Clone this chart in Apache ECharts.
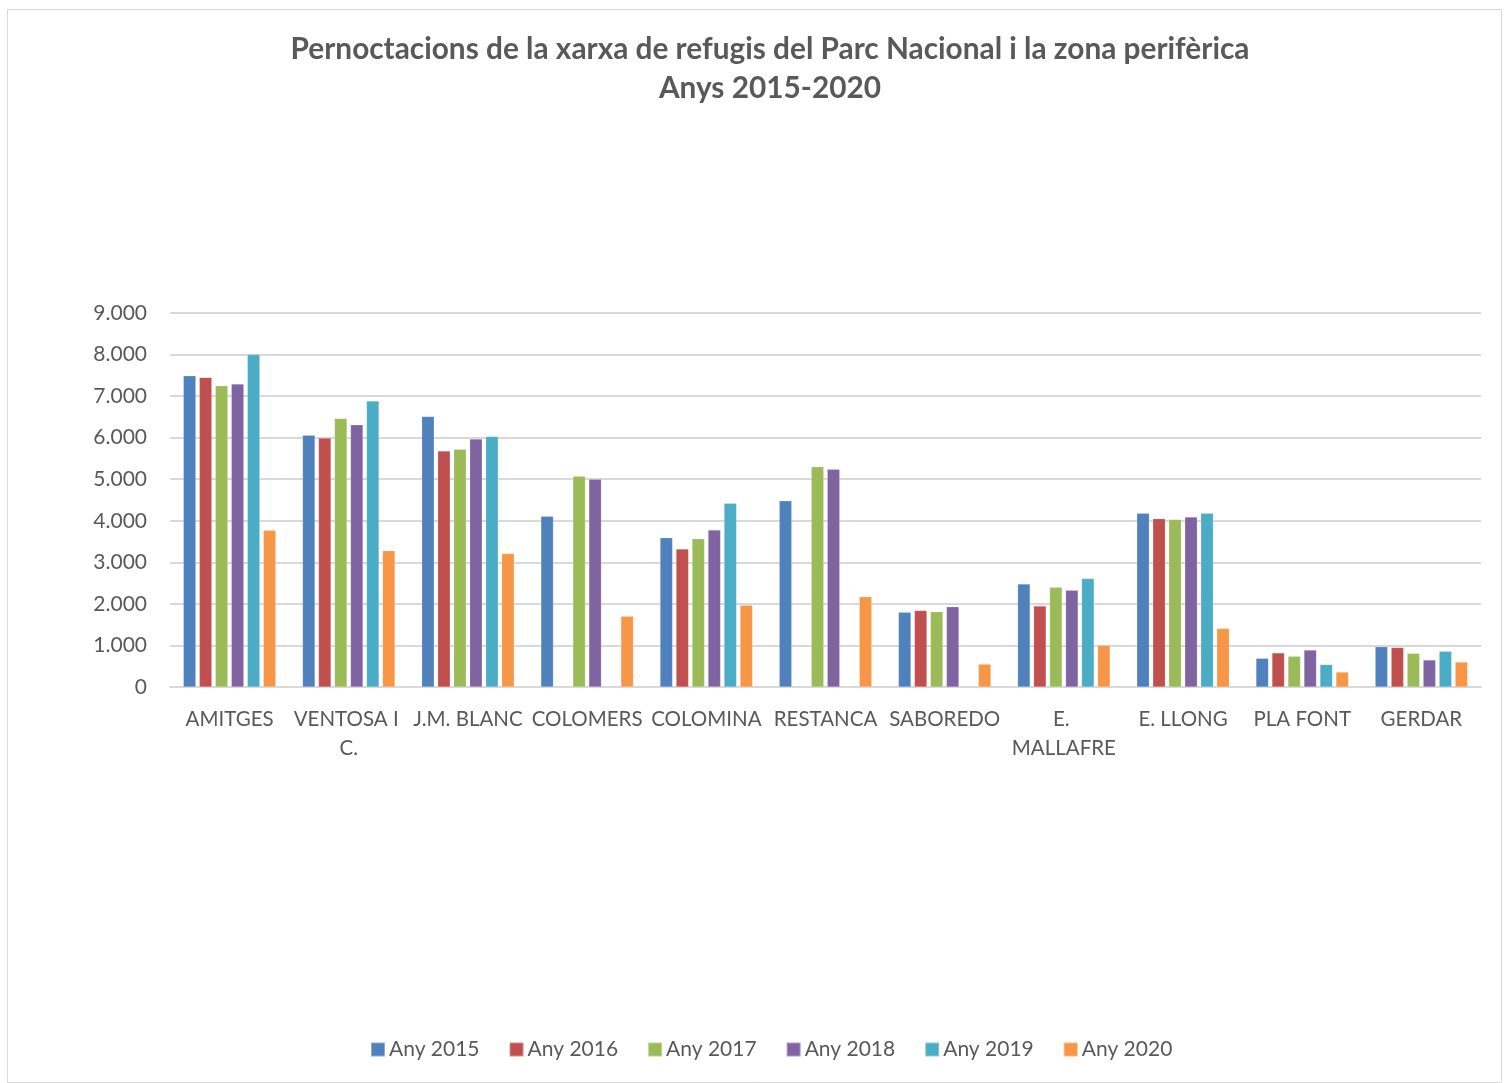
<!DOCTYPE html>
<html>
<head>
<meta charset="utf-8">
<title>Pernoctacions refugis</title>
<script src="https://cdn.jsdelivr.net/npm/echarts@6/dist/echarts.min.js"></script>
<style>
  html, body { margin: 0; padding: 0; background: #fff; }
  #chart { width: 1508px; height: 1083px; }
</style>
</head>
<body>
<div id="chart"></div>
<script>
// Refuges (categories)
const refugis = ['AMITGES', 'VENTOSA I C.', 'J.M. BLANC', 'COLOMERS', 'COLOMINA', 'RESTANCA', 'SABOREDO', 'E. MALLAFRE', 'E. LLONG', 'PLA FONT', 'GERDAR'];

// Overnight stays per year (null = no data)
const any2015 = [7490, 6060, 6510, 4110, 3590, 4480, 1800, 2480, 4180, 690, 970];
const any2016 = [7450, 5990, 5680, null, 3320, null, 1840, 1950, 4050, 820, 950];
const any2017 = [7250, 6460, 5720, 5070, 3570, 5300, 1810, 2400, 4030, 740, 810];
const any2018 = [7290, 6310, 5970, 5000, 3780, 5240, 1930, 2330, 4090, 890, 650];
const any2019 = [8000, 6880, 6030, null, 4420, null, null, 2610, 4180, 540, 860];
const any2020 = [3770, 3280, 3210, 1700, 1970, 2170, 550, 1000, 1410, 360, 600];

const yearNames = ['Any 2015', 'Any 2016', 'Any 2017', 'Any 2018', 'Any 2019', 'Any 2020'];
const yearData = [any2015, any2016, any2017, any2018, any2019, any2020];
const colors = ['#4F81BD', '#C0504D', '#9BBB59', '#8064A2', '#4BACC6', '#F79646'];

// Axis tick values
const yMin = 0, yMax = 9000, yStep = 1000;

const textColor = '#595959';
const fontFam = 'Lato, "Open Sans", sans-serif';

const chart = echarts.init(document.getElementById('chart'), null, { renderer: 'canvas' });

const fmtThousands = v => {
  const s = String(Math.round(v));
  return s.replace(/\B(?=(\d{3})+(?!\d))/g, '.');
};

chart.setOption({
  animation: false,
  color: colors,
  textStyle: { fontFamily: fontFam },
  title: {
    text: 'Pernoctacions de la xarxa de refugis del Parc Nacional i la zona perifèrica\nAnys 2015-2020',
    left: 765,
    textAlign: 'center',
    top: 25,
    textStyle: {
      fontFamily: fontFam,
      fontSize: 29.8,
      fontWeight: 'bold',
      color: textColor,
      lineHeight: 39
    }
  },
  legend: {
    bottom: 18,
    left: 365,
    itemWidth: 14,
    itemHeight: 14,
    itemGap: 29,
    icon: 'rect',
    textStyle: { fontSize: 21, color: textColor, fontFamily: fontFam, padding: [0, 0, 0, -1] },
    data: yearNames
  },
  grid: {
    left: 170,
    right: 27,
    top: 313,
    height: 374,
    containLabel: false
  },
  xAxis: {
    type: 'category',
    data: refugis,
    axisLine: { lineStyle: { color: '#d9d9d9', width: 2 } },
    axisTick: { show: false },
    axisLabel: {
      interval: 0,
      color: textColor,
      fontSize: 20.5,
      fontFamily: fontFam,
      margin: 18,
      lineHeight: 29,
      width: 117,
      overflow: 'break'
    }
  },
  yAxis: {
    type: 'value',
    min: yMin,
    max: yMax,
    interval: yStep,
    axisLine: { show: false },
    axisTick: { show: false },
    splitLine: { lineStyle: { color: '#d9d9d9', width: 2 } },
    axisLabel: {
      color: textColor,
      fontSize: 21,
      fontFamily: fontFam,
      margin: 23,
      formatter: fmtThousands
    }
  },
  series: yearNames.map((name, i) => ({
    name: name,
    type: 'bar',
    data: yearData[i],
    barWidth: 12.5,
    barGap: '28%',
    itemStyle: { color: colors[i], borderColor: 'rgba(255,255,255,0.35)', borderWidth: 0.5 }
  })),
  graphic: [{
    type: 'rect',
    shape: { x: 7.5, y: 9.5, width: 1494, height: 1073 },
    style: { fill: 'none', stroke: '#d9d9d9', lineWidth: 1 },
    silent: true
  }]
});
</script>
</body>
</html>
